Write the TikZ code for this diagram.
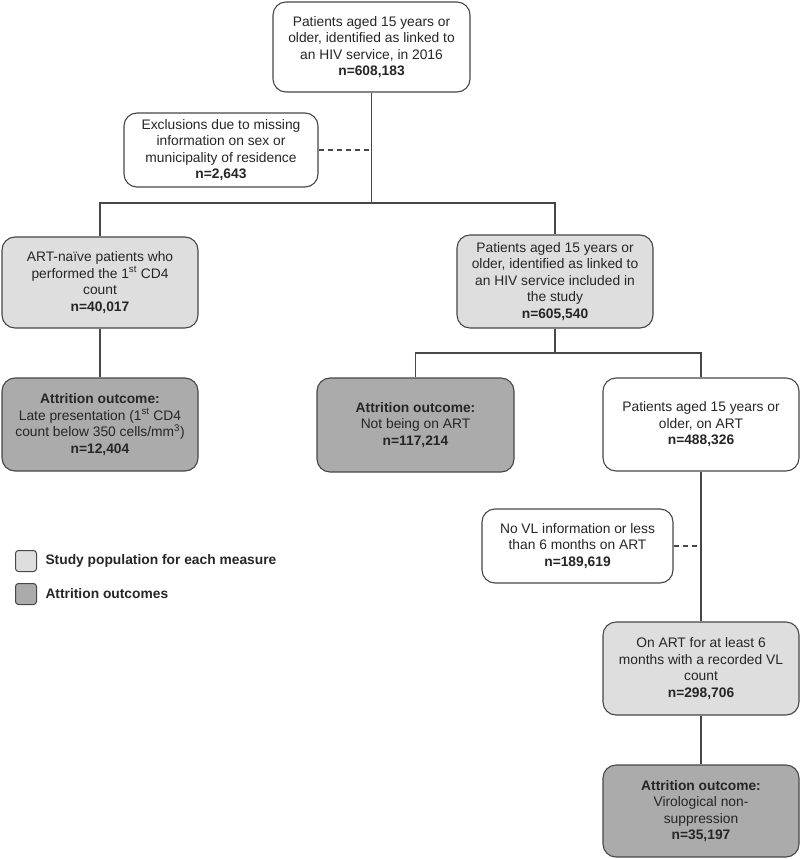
\documentclass[tikz,border=0pt]{standalone}
\usepackage{fontspec}
\setmainfont{Liberation Sans}
\usetikzlibrary{positioning}
\definecolor{grisclair}{HTML}{DEDEDE}
\definecolor{grisfonce}{HTML}{ABABAB}
\definecolor{trait}{HTML}{474747}
\definecolor{texte}{HTML}{262626}
\begin{document}
\begin{tikzpicture}[x=1pt,y=-1pt]
\tikzset{
	boite/.style={draw=trait, line width=1.1pt, rounded corners=13pt, minimum width=196pt,
		minimum height=93pt, align=center, inner sep=0pt, text=texte,
		font=\fontsize{13.8}{16.5}\selectfont},
	blanche/.style={boite, fill=white},
	claire/.style={boite, fill=grisclair},
	foncee/.style={boite, fill=grisfonce},
	lien/.style={draw=trait, line width=1.2pt},
	pointille/.style={lien, dash pattern=on 5pt off 4pt},
	carre/.style={draw=trait, line width=1pt, rounded corners=3pt, minimum width=21pt, minimum height=21pt, inner sep=0pt},
	legende/.style={text=texte, font=\fontsize{13.8}{16.5}\selectfont\bfseries}
}
\useasboundingbox (0,0) rectangle (800,859);

 % les boîtes
  \node[blanche, minimum width=197pt, minimum height=90pt] (depart) at (371.5,47)
    {Patients aged 15 years or\\older, identified as linked to\\an HIV service, in 2016\\\textbf{n=608,183}};
  \node[blanche, minimum width=194pt, minimum height=74pt] (exclus) at (221,150)
    {Exclusions due to missing\\information on sex or\\municipality of residence\\\textbf{n=2,643}};
  \node[claire, minimum height=91pt] (naifs) at (100,282.5)
    {ART-na\"ive patients who\\performed the 1\textsuperscript{st} CD4\\count\\\textbf{n=40,017}};
  \node[foncee] (tardive) at (100,424.5)
    {\textbf{Attrition outcome:}\\Late presentation (1\textsuperscript{st} CD4\\count below 350 cells/mm\textsuperscript{3})\\\textbf{n=12,404}};
  \node[claire] (etude) at (555,281.5)
    {Patients aged 15 years or\\older, identified as linked to\\an HIV service included in\\the study\\\textbf{n=605,540}};
  \node[foncee, minimum width=197pt, minimum height=94pt] (nonart) at (415.5,425)
    {\textbf{Attrition outcome:}\\Not being on ART\\\textbf{n=117,214}};
  \node[blanche] (surart) at (701,424.5)
    {Patients aged 15 years or\\older, on ART\\\textbf{n=488,326}};
  \node[blanche, minimum width=191pt, minimum height=74pt] (sansvl) at (577.5,546)
    {No VL information or less\\than 6 months on ART\\\textbf{n=189,619}};
  \node[claire] (enregistre) at (701,668.5)
    {On ART for at least 6\\months with a recorded VL\\count\\\textbf{n=298,706}};
  \node[foncee, minimum height=92pt] (echec) at (701,811)
    {\textbf{Attrition outcome:}\\Virological non-\\suppression\\\textbf{n=35,197}};

 % les liaisons
  \coordinate (embr1) at (371.5,203);
  \coordinate (embr2) at (555,353);
  \draw[lien] (depart) -- (embr1);
  \draw[lien] (naifs.north) |- (embr1) -| (etude.north);
  \draw[pointille] (exclus.east) -- (exclus.east -| depart);
  \draw[lien] (naifs) -- (tardive);
  \draw[lien] (etude) -- (embr2);
  \draw[lien] (nonart.north) |- (embr2) -| (surart.north);
  \draw[lien] (surart) -- (enregistre);
  \draw[pointille] (sansvl.east) -- (sansvl.east -| surart);
  \draw[lien] (enregistre) -- (echec);

% la légende
  \node[carre, fill=grisclair] (legclair) at (26,561) {};
  \node[legende, right=5pt of legclair] (txtclair) {Study population for each measure};
  \node[carre, fill=grisfonce] (legfonce) at (26,594) {};
  \node[legende, right=5pt of legfonce] (txtfonce) {Attrition outcomes};
\end{tikzpicture}
\end{document}
